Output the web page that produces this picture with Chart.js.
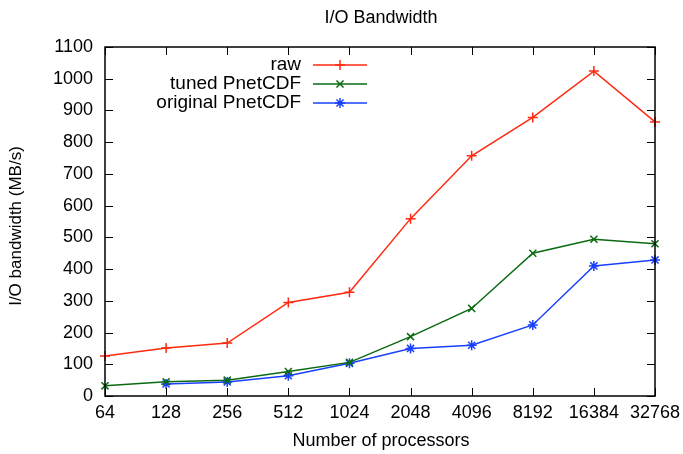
<!DOCTYPE html>
<html>
<head>
<meta charset="utf-8">
<script src="https://cdn.jsdelivr.net/npm/chart.js@4.4.0/dist/chart.umd.min.js"></script>
<style>
  html, body { margin: 0; padding: 0; background: #fff; }
</style>
</head>
<body>
<canvas id="myChart" width="683" height="454"></canvas>
<script>
// Data
const processors = ['64', '128', '256', '512', '1024', '2048', '4096', '8192', '16384', '32768'];
const rawBandwidth = [126, 151, 167, 295, 327, 559, 757, 878, 1024, 864];
const tunedBandwidth = [32, 45, 50, 77, 106, 187, 276, 450, 494, 480];
const originalBandwidth = [null, 38, 44, 64, 103, 150, 160, 224, 410, 429];
const yTicks = [0, 1100, 100];

const FONT = '"Liberation Sans", Arial, Helvetica, sans-serif';

// frame, inward ticks, title, axis titles and gnuplot-style legend
const gnuplotDecor = {
    id: 'gnuplotDecor',
    afterDraw(chart) {
        const ctx = chart.ctx;
        const a = chart.chartArea;
        const xs = chart.scales.x;
        const ys = chart.scales.y;
        ctx.save();
        ctx.strokeStyle = '#000';
        ctx.lineWidth = 1.5;
        ctx.strokeRect(a.left, a.top, a.right - a.left, a.bottom - a.top);

        ctx.lineWidth = 1;
        ctx.beginPath();
        processors.forEach(function (p, i) {
            const x = Math.round(xs.getPixelForValue(i)) + 0.5;
            ctx.moveTo(x, a.bottom); ctx.lineTo(x, a.bottom - 8);
            ctx.moveTo(x, a.top); ctx.lineTo(x, a.top + 8);
        });
        for (let v = yTicks[0]; v <= yTicks[1]; v += yTicks[2]) {
            const y = Math.round(ys.getPixelForValue(v)) + 0.5;
            ctx.moveTo(a.left, y); ctx.lineTo(a.left + 8, y);
            ctx.moveTo(a.right, y); ctx.lineTo(a.right - 8, y);
        }
        ctx.stroke();

        ctx.fillStyle = '#000';
        ctx.textAlign = 'center';
        ctx.textBaseline = 'middle';
        ctx.font = '18px ' + FONT;
        ctx.fillText('I/O Bandwidth', 381, 18);
        ctx.fillText('Number of processors', 381, 441);
        ctx.save();
        ctx.translate(16, 226);
        ctx.rotate(-Math.PI / 2);
        ctx.font = '17px ' + FONT;
        ctx.fillText('I/O bandwidth (MB/s)', 0, 0);
        ctx.restore();

        // legend
        ctx.font = '19px ' + FONT;
        ctx.textAlign = 'right';
        chart.data.datasets.forEach(function (ds, i) {
            const y = 65 + i * 19;
            ctx.fillStyle = '#000';
            ctx.fillText(ds.label, 301, y);
            ctx.strokeStyle = ds.borderColor;
            ctx.lineWidth = 1.5;
            ctx.beginPath();
            ctx.moveTo(313, y); ctx.lineTo(367, y);
            ctx.stroke();
            Chart.helpers.drawPoint(ctx, {
                pointStyle: ds.pointStyle, radius: 5, borderWidth: 1.5
            }, 340, y);
        });
        ctx.restore();
    }
};

const chartCtx = document.getElementById('myChart').getContext('2d');
const chart = new Chart(chartCtx, {
    type: 'line',
    data: {
        labels: processors,
        datasets: [{
            label: 'raw',
            data: rawBandwidth,
            borderColor: '#ff2a10',
            pointStyle: 'cross'
        }, {
            label: 'tuned PnetCDF',
            data: tunedBandwidth,
            borderColor: '#0a6a10',
            pointStyle: 'crossRot'
        }, {
            label: 'original PnetCDF',
            data: originalBandwidth,
            borderColor: '#1a40ff',
            pointStyle: 'star'
        }].map(function (ds) {
            ds.backgroundColor = ds.borderColor;
            ds.pointBorderColor = ds.borderColor;
            ds.borderWidth = 1.5;
            ds.pointRadius = 5;
            ds.pointBorderWidth = 1.5;
            ds.tension = 0;
            ds.clip = false;
            return ds;
        })
    },
    options: {
        responsive: false,
        animation: false,
        devicePixelRatio: 1,
        layout: { padding: { left: 0, top: 47, right: 28, bottom: 0 } },
        plugins: {
            legend: { display: false },
            title: { display: false },
            tooltip: { enabled: false }
        },
        scales: {
            x: {
                type: 'category',
                offset: false,
                grid: { display: false },
                border: { display: false },
                ticks: { color: '#000', padding: -2, maxRotation: 0, autoSkip: false, font: { family: FONT, size: 18 } },
                afterFit: function (scale) { scale.height = 58; }
            },
            y: {
                min: yTicks[0],
                max: yTicks[1],
                grid: { display: false },
                border: { display: false },
                ticks: {
                    stepSize: yTicks[2], color: '#000', padding: 4, font: { family: FONT, size: 18 },
                    callback: function (value) { return String(value); }
                },
                afterFit: function (scale) { scale.width = 105; }
            }
        }
    },
    plugins: [gnuplotDecor]
});
</script>
</body>
</html>
